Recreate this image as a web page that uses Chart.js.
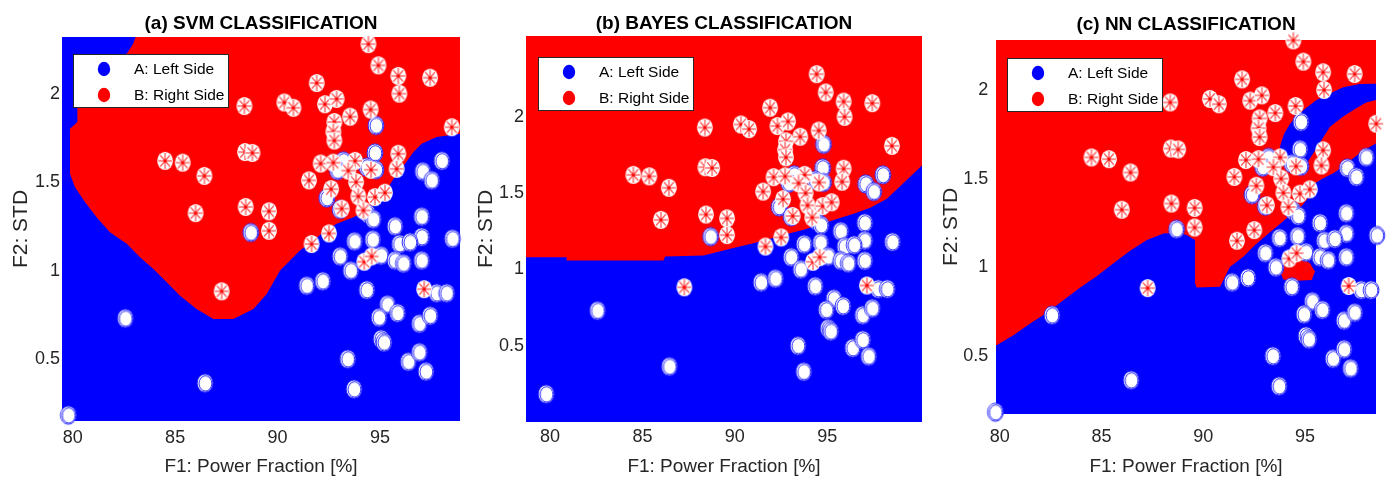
<!DOCTYPE html>
<html><head><meta charset="utf-8">
<script src="https://cdn.jsdelivr.net/npm/chart.js@4.4.1/dist/chart.umd.min.js"></script>
<style>
html,body{margin:0;padding:0;background:#fff;width:1386px;height:479px;overflow:hidden;position:relative;}
canvas{position:absolute;top:0;}
</style></head><body>
<canvas id="ca" width="470" height="479" style="left:0px"></canvas>
<canvas id="cb" width="470" height="479" style="left:465px"></canvas>
<canvas id="cc" width="456" height="479" style="left:930px"></canvas>
<script>
// ---------- text ----------
const panelTitles = ['(a) SVM CLASSIFICATION', '(b) BAYES CLASSIFICATION', '(c) NN CLASSIFICATION'];
const xAxisTitle = 'F1: Power Fraction [%]';
const yAxisTitle = 'F2: STD';
const legendLabels = ['A: Left Side', 'B: Right Side'];
const legendColors = ['#0000ff', '#ff0000'];
const xTickValues = [80, 85, 90, 95];
const xTickLabels = ['80', '85', '90', '95'];
const yTickValues = [0.5, 1, 1.5, 2];
const yTickLabels = ['0.5', '1', '1.5', '2'];

// ---------- samples (same in every panel) ----------
const classAX = [94.80, 94.75, 98.01, 97.08, 97.52, 88.69, 93.21, 92.92, 94.35, 94.80, 92.40, 93.05, 94.40, 94.67, 93.75, 94.64, 95.73, 97.03, 97.03, 95.95, 96.46, 98.53, 93.05, 93.57, 95.05, 95.73, 96.14, 97.03, 91.42, 92.20, 94.35, 97.76, 98.25, 95.36, 95.85, 94.95, 96.92, 97.44, 95.05, 95.19, 93.42, 93.73, 96.38, 96.92, 97.24, 82.57, 86.46, 79.79];
const classAY = [1.82, 1.665, 1.62, 1.56, 1.51, 1.215, 1.62, 1.565, 1.585, 1.57, 1.41, 1.345, 1.32, 1.29, 1.165, 1.175, 1.25, 1.305, 1.19, 1.15, 1.16, 1.18, 1.08, 1.00, 1.085, 1.057, 1.04, 1.057, 0.915, 0.94, 0.89, 0.872, 0.872, 0.808, 0.76, 0.735, 0.70, 0.745, 0.613, 0.594, 0.50, 0.33, 0.485, 0.538, 0.43, 0.73, 0.364, 0.183];
const classBX = [94.43, 94.92, 95.89, 97.44, 95.94, 91.91, 92.31, 92.88, 90.33, 90.77, 88.38, 94.54, 93.54, 92.77, 92.72, 92.77, 98.50, 95.89, 95.81, 88.41, 88.77, 84.51, 85.37, 86.43, 86.00, 88.44, 89.58, 89.58, 87.27, 91.53, 92.10, 92.72, 93.78, 93.45, 94.56, 93.83, 93.94, 94.19, 92.61, 93.13, 94.75, 95.24, 92.51, 91.66, 94.23, 94.59, 97.15];
const classBY = [2.28, 2.16, 2.10, 2.09, 2.00, 2.06, 1.94, 1.97, 1.95, 1.92, 1.93, 1.91, 1.87, 1.84, 1.785, 1.735, 1.81, 1.66, 1.575, 1.67, 1.665, 1.62, 1.61, 1.535, 1.325, 1.36, 1.335, 1.225, 0.883, 1.51, 1.605, 1.61, 1.62, 1.565, 1.57, 1.50, 1.42, 1.34, 1.46, 1.35, 1.415, 1.44, 1.21, 1.15, 1.05, 1.08, 0.895];

// ---------- decision regions (boundaries) ----------
const fullRectX = [60, 120, 120, 60];
const fullRectY = [-2, -2, 5, 5];
const svmRedX = [83.61, 99.5, 99.5, 97.76, 97.03, 96.63, 96.22, 95.81, 95.41, 95.00, 94.35, 93.70, 92.88, 92.23, 91.75, 91.09, 90.61, 90.12, 89.47, 88.82, 87.84, 86.87, 86.05, 85.24, 84.59, 83.94, 83.29, 82.64, 81.82, 81.17, 80.60, 80.11, 79.87, 79.87, 80.23, 80.23, 82.64, 82.96];
const svmRedY = [2.5, 2.5, 1.783, 1.755, 1.717, 1.670, 1.604, 1.547, 1.472, 1.396, 1.340, 1.302, 1.264, 1.217, 1.170, 1.113, 1.057, 1.000, 0.868, 0.783, 0.726, 0.726, 0.783, 0.858, 0.934, 1.009, 1.075, 1.151, 1.217, 1.302, 1.387, 1.472, 1.547, 1.802, 1.840, 2.208, 2.226, 2.283];
const bayesRedX = [78.0, 80.90, 80.90, 86.14, 86.23, 88.30, 89.93, 91.01, 91.91, 92.82, 93.72, 94.62, 95.52, 96.43, 97.33, 98.23, 99.13, 100.13, 101, 101, 78.0];
const bayesRedY = [1.080, 1.080, 1.058, 1.058, 1.085, 1.091, 1.141, 1.172, 1.201, 1.233, 1.260, 1.295, 1.330, 1.365, 1.404, 1.463, 1.566, 1.682, 1.75, 3, 3];
const nnRedX = [79.0, 99.5, 99.5, 98.48, 97.86, 97.37, 96.88, 96.39, 95.90, 95.49, 95.33, 95.08, 94.75, 94.18, 93.61, 93.12, 92.55, 91.97, 91.32, 90.99, 90.83, 89.68, 89.60, 89.60, 89.19, 88.70, 88.05, 87.23, 86.41, 85.59, 84.78, 83.96, 83.14, 82.32, 81.50, 80.69, 79.87, 79.0];
const nnRedY = [2.5, 2.5, 1.699, 1.699, 1.658, 1.615, 1.568, 1.530, 1.502, 1.474, 1.427, 1.380, 1.333, 1.286, 1.229, 1.182, 1.126, 1.060, 1.004, 0.929, 0.891, 0.887, 0.910, 1.154, 1.182, 1.195, 1.191, 1.154, 1.094, 1.023, 0.951, 0.887, 0.816, 0.744, 0.684, 0.618, 0.562, 0.553];
const nnBlueX = [99.5, 97.69, 96.88, 96.23, 95.57, 95.08, 94.59, 94.26, 93.97, 93.77, 93.94, 94.35, 94.75, 95.08, 95.41, 95.82, 96.23, 96.88, 97.52, 98.01, 98.50, 99.5];
const nnBlueY = [2.038, 2.034, 2.015, 1.981, 1.944, 1.902, 1.853, 1.808, 1.752, 1.680, 1.605, 1.568, 1.558, 1.586, 1.643, 1.718, 1.793, 1.850, 1.897, 1.929, 1.944, 1.947];
const nnBlobX = [93.77, 93.86, 94.26, 94.75, 95.25, 95.49, 95.33, 94.59, 93.94];
const nnBlobY = [0.976, 1.023, 1.060, 1.060, 1.023, 0.976, 0.929, 0.925, 0.932];

// ---------- axis limits ----------
const svmXLim = [79.48, 98.9], svmYLim = [0.15, 2.32];
const bayesXLim = [78.7, 100.13], bayesYLim = [0.0, 2.53];
const nnXLim = [79.82, 98.49], nnYLim = [0.173, 2.282];

// ---------- styling ----------
const SANS = "'Liberation Sans', Arial, sans-serif";
const TXT = '#262626';
const RED = '#ff0000', BLUE = '#0000ff';

function markerA() {
  const c = document.createElement('canvas'); c.width = 20; c.height = 22;
  const g = c.getContext('2d');
  g.fillStyle = '#fff'; g.beginPath(); g.ellipse(10, 11, 7.9, 9.1, 0, 0, 2 * Math.PI); g.fill();
  g.strokeStyle = '#2a2aff'; g.lineWidth = 1;
  g.beginPath(); g.ellipse(10, 11, 7.9, 9.1, 0, 0, 2 * Math.PI); g.stroke();
  g.beginPath(); g.ellipse(10.4, 11.3, 6.4, 7.6, 0, 0, 2 * Math.PI); g.stroke();
  return c;
}
function markerB() {
  const c = document.createElement('canvas'); c.width = 20; c.height = 22;
  const g = c.getContext('2d');
  g.fillStyle = '#fff'; g.beginPath(); g.ellipse(10, 11, 7.9, 9.1, 0, 0, 2 * Math.PI); g.fill();
  g.strokeStyle = 'rgba(255,40,40,0.85)'; g.lineWidth = 1.2;
  for (let k = 0; k < 8; k++) {
    const a = k * Math.PI / 4;
    g.beginPath(); g.moveTo(10, 11); g.lineTo(10 + Math.cos(a) * 6.9, 11 + Math.sin(a) * 8.1); g.stroke();
  }
  g.fillStyle = '#ff0000'; g.beginPath(); g.arc(10, 11, 1.6, 0, 2 * Math.PI); g.fill();
  return c;
}
const imgA = markerA(), imgB = markerB();

function pts(xs, ys) { return xs.map((x, i) => ({x: x, y: ys[i]})); }
function region(xs, ys, color, order) {
  return {type: 'line', data: pts(xs, ys), fill: 'shape', backgroundColor: color, borderColor: color,
    borderWidth: 0, pointRadius: 0, pointHoverRadius: 0, showLine: true, tension: 0, spanGaps: true, order: order};
}
function samples() {
  return [
    {type: 'line', label: 'A', data: pts(classAX, classAY), showLine: false, pointStyle: imgA,
      pointRadius: 8, pointHoverRadius: 8, pointBorderWidth: 0, order: 1, clip: false},
    {type: 'line', label: 'B', data: pts(classBX, classBY), showLine: false, pointStyle: imgB,
      pointRadius: 8, pointHoverRadius: 8, pointBorderWidth: 0, order: 0, clip: false}
  ];
}

const boxLegend = {
  id: 'boxLegend',
  afterDraw(chart, args, o) {
    const ca = chart.chartArea, ctx = chart.ctx;
    const x0 = Math.round(ca.left + o.dx), y0 = Math.round(ca.top + o.dy);
    ctx.save();
    ctx.fillStyle = '#fff'; ctx.fillRect(x0, y0, 156, 54);
    ctx.strokeStyle = '#262626'; ctx.lineWidth = 1; ctx.strokeRect(x0 + 0.5, y0 + 0.5, 155, 53);
    legendLabels.forEach((lab, i) => {
      const cy = y0 + 15 + i * 26;
      ctx.fillStyle = legendColors[i];
      ctx.beginPath(); ctx.ellipse(x0 + 31, cy, 6.2, 7.2, 0, 0, 2 * Math.PI); ctx.fill();
      ctx.fillStyle = '#000'; ctx.font = '15.5px ' + SANS; ctx.textBaseline = 'middle'; ctx.textAlign = 'left';
      ctx.fillText(lab, x0 + 61, cy + 1);
    });
    ctx.restore();
  }
};

const panels = [
  {id: 'ca', title: panelTitles[0], xl: svmXLim, yl: svmYLim, w: 470, area: {l: 62, r: 460, t: 37, b: 421},
    tPad: {top: 14.5, bottom: 3.5}, yTitlePad: 11.2, yTickPad: 2, xTickPad: 7.7, leg: {dx: 11.3, dy: 17.3},
    regions: [region(fullRectX, fullRectY, BLUE, 20), region(svmRedX, svmRedY, RED, 15)]},
  {id: 'cb', title: panelTitles[1], xl: bayesXLim, yl: bayesYLim, w: 470, area: {l: 61, r: 457, t: 36, b: 422},
    tPad: {top: 14, bottom: 3}, yTitlePad: 10, yTickPad: 2, xTickPad: 5.7, leg: {dx: 12.3, dy: 20.7},
    regions: [region(fullRectX, fullRectY, BLUE, 20), region(bayesRedX, bayesRedY, RED, 15)]},
  {id: 'cc', title: panelTitles[2], xl: nnXLim, yl: nnYLim, w: 456, area: {l: 66, r: 446, t: 40, b: 414},
    tPad: {top: 15, bottom: 6}, yTitlePad: 8.7, yTickPad: 7.7, xTickPad: 14.3, leg: {dx: 10.7, dy: 18.3},
    regions: [region(fullRectX, fullRectY, BLUE, 20), region(nnRedX, nnRedY, RED, 15),
              region(nnBlueX, nnBlueY, BLUE, 12), region(nnBlobX, nnBlobY, RED, 11)]}
];

panels.forEach(p => {
  new Chart(document.getElementById(p.id), {
    type: 'line',
    data: {datasets: p.regions.concat(samples())},
    options: {
      responsive: false, animation: false, events: [],
      layout: {padding: {left: 0, right: p.w - p.area.r, top: 0, bottom: 0}},
      plugins: {
        legend: {display: false}, tooltip: {enabled: false},
        title: {display: true, text: p.title, fullSize: false, color: '#000',
          font: {family: SANS, size: 19, weight: 'bold', lineHeight: 1}, padding: p.tPad},
        boxLegend: p.leg
      },
      scales: {
        x: {type: 'linear', min: p.xl[0], max: p.xl[1],
          grid: {display: false, drawTicks: false}, border: {display: false},
          afterBuildTicks: s => { s.ticks = xTickValues.map(v => ({value: v})); },
          ticks: {autoSkip: false, maxRotation: 0, padding: p.xTickPad, color: TXT,
            font: {family: SANS, size: 18, lineHeight: 1}, callback: (v, i) => xTickLabels[i]},
          title: {display: true, text: xAxisTitle, color: TXT, font: {family: SANS, size: 19, lineHeight: 1},
            padding: {top: 0, bottom: 2.8}},
          afterFit: s => { s.height = 479 - p.area.b; }
        },
        y: {type: 'linear', min: p.yl[0], max: p.yl[1],
          grid: {display: false, drawTicks: false}, border: {display: false},
          afterBuildTicks: s => { s.ticks = yTickValues.map(v => ({value: v})); },
          ticks: {autoSkip: false, padding: p.yTickPad, color: TXT,
            font: {family: SANS, size: 18, lineHeight: 1}, callback: (v, i) => yTickLabels[i]},
          title: {display: true, text: yAxisTitle, color: TXT, font: {family: SANS, size: 21, lineHeight: 1},
            padding: {top: 11, bottom: 0}},
          afterFit: s => { s.width = p.area.l; }
        }
      }
    },
    plugins: [boxLegend]
  });
});
</script>
</body></html>
